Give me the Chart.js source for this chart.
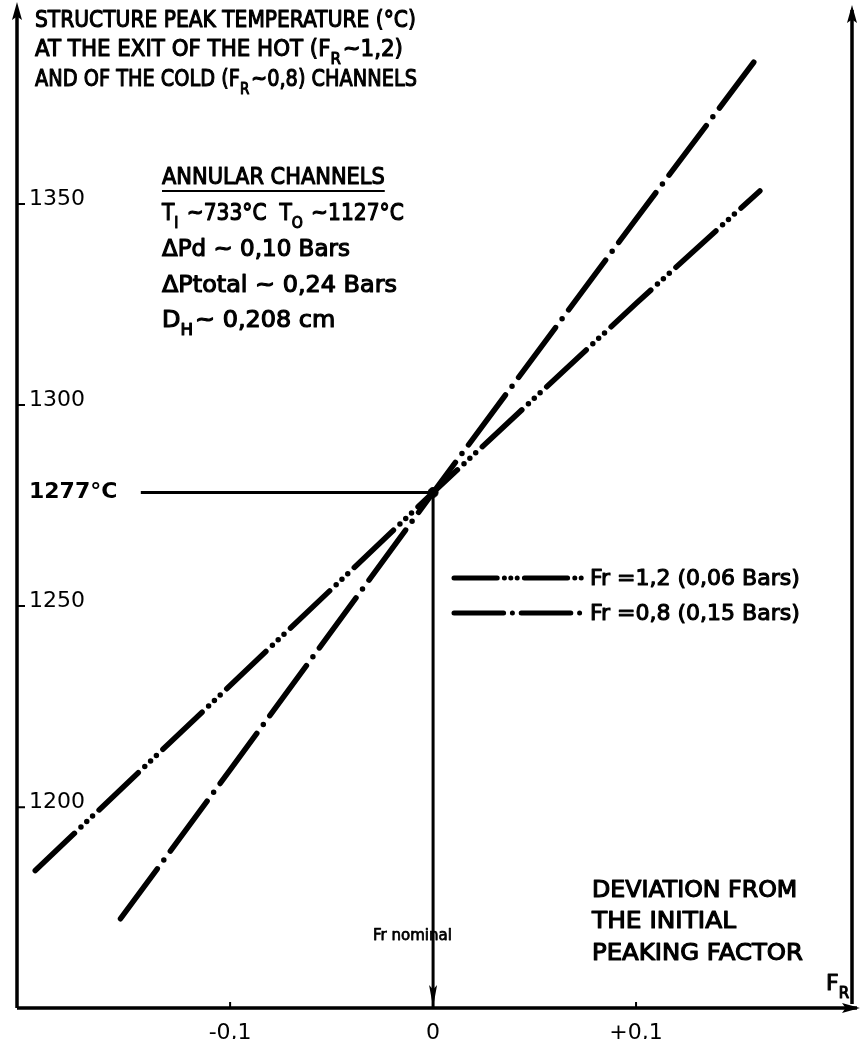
<!DOCTYPE html>
<html>
<head>
<meta charset="utf-8">
<script src="https://cdn.jsdelivr.net/npm/chart.js@4.4.1/dist/chart.umd.min.js"></script>
<style>
  html, body { margin: 0; padding: 0; background: #fff; }
  canvas { display: block; }
</style>
</head>
<body>
<canvas id="peakChart" width="863" height="1039"></canvas>
<script>
// Structure peak temperature vs deviation of the peaking factor F_R

const xTicks = [-0.1, 0, 0.1];
const xTickLabels = ["-0,1", "0", "+0,1"];
const yTicks = [1200, 1250, 1277, 1300, 1350];
const yTickLabels = ["1200", "1250", "1277°C", "1300", "1350"];

// hot channel, Fr = 1,2
const fr12X = [-0.196, -0.1, 0, 0.1, 0.161];
const fr12Y = [1183, 1229, 1277, 1324, 1352];
// cold channel, Fr = 0,8
const fr08X = [-0.154, -0.1, 0, 0.1, 0.158];
const fr08Y = [1171, 1208, 1277, 1345, 1384];

const nominalX = 0;
const nominalT = 1277;
const guideStartX = -0.144;

const xRange = [-0.205, 0.2064];
const yRange = [1148.8, 1397.0];

const FONT = '"DejaVu Sans", sans-serif';
const DASH_FR12 = [54, 9, 0, 8, 0, 8, 0, 9];
const DASH_FR08 = [62, 11, 0, 11];

const toPoints = (xs, ys) => xs.map((x, i) => ({ x, y: ys[i] }));

// ─── Text helper (lettering-stencil look, subscripts) ─────────────────────────
function letter(ctx, parts, x, y, size, sx = 1) {
  ctx.save();
  ctx.translate(x, y);
  ctx.scale(sx, 1);
  ctx.fillStyle = "#000";
  ctx.strokeStyle = "#000";
  ctx.lineWidth = size * 0.05;
  ctx.lineJoin = "round";
  ctx.textBaseline = "alphabetic";
  ctx.textAlign = "left";
  let cx = 0;
  parts.forEach(p => {
    const sub = typeof p !== "string";
    const s = sub ? p.sub : p;
    ctx.font = `${sub ? Math.round(size * 0.7) : size}px ${FONT}`;
    const dy = sub ? size * 0.36 : 0;
    ctx.fillText(s, cx, dy);
    ctx.strokeText(s, cx, dy);
    cx += ctx.measureText(s).width + (sub ? 2 : 0);
  });
  ctx.restore();
  return cx * sx;
}

function arrow(ctx, x, y, dir, len = 18, half = 5) {
  ctx.save();
  ctx.translate(x, y);
  ctx.rotate(dir);
  ctx.beginPath();
  ctx.moveTo(0, 0);
  ctx.lineTo(-len, -half);
  ctx.lineTo(-len * 0.8, 0);
  ctx.lineTo(-len, half);
  ctx.closePath();
  ctx.fill();
  ctx.restore();
}

// ─── Axes, legend and annotations ─────────────────────────────────────────────
const paperPlugin = {
  id: "paper",
  beforeDraw(chart) {
    const ctx = chart.ctx;
    ctx.save();
    ctx.fillStyle = "#fff";
    ctx.fillRect(0, 0, chart.width, chart.height);
    ctx.restore();
  },
  afterDraw(chart) {
    const ctx = chart.ctx;
    const { left, right, top, bottom } = chart.chartArea;
    const xs = chart.scales.x, ys = chart.scales.y;
    ctx.save();
    ctx.strokeStyle = "#000";
    ctx.fillStyle = "#000";
    ctx.lineCap = "butt";

    // frame axes with arrows
    ctx.lineWidth = 3.5;
    ctx.beginPath();
    ctx.moveTo(left, bottom); ctx.lineTo(left, top);
    ctx.moveTo(left, bottom); ctx.lineTo(chart.width - 6, bottom);
    ctx.moveTo(right, bottom - 4); ctx.lineTo(right, top);
    ctx.stroke();
    arrow(ctx, left, top - 8, -Math.PI / 2);
    arrow(ctx, right, top - 5, -Math.PI / 2);
    arrow(ctx, chart.width - 3, bottom, 0);

    // small tick marks
    ctx.lineWidth = 2;
    ctx.beginPath();
    yTicks.forEach(v => {
      if (v === nominalT) return;
      const py = ys.getPixelForValue(v) + 5;
      ctx.moveTo(left, py); ctx.lineTo(left + 8, py);
    });
    xTicks.forEach(v => {
      if (v === nominalX) return;
      const px = xs.getPixelForValue(v);
      ctx.moveTo(px, bottom); ctx.lineTo(px, bottom - 6);
    });
    ctx.stroke();

    // arrow on the nominal line
    arrow(ctx, xs.getPixelForValue(nominalX), bottom - 1, Math.PI / 2, 22, 4);

    // title
    letter(ctx, ["STRUCTURE PEAK TEMPERATURE (°C)"], 35, 27, 23, 0.88);
    letter(ctx, ["AT THE EXIT OF THE HOT (F", { sub: "R" }, "~1,2)"], 35, 56, 23, 0.93);
    letter(ctx, ["AND OF THE COLD (F", { sub: "R" }, "~0,8) CHANNELS"], 35, 86, 23, 0.84);

    // channel data block
    const w = letter(ctx, ["ANNULAR CHANNELS"], 162, 184, 23, 0.91);
    ctx.lineWidth = 2;
    ctx.beginPath();
    ctx.moveTo(162, 191); ctx.lineTo(162 + w, 191);
    ctx.stroke();
    letter(ctx, ["T", { sub: "I" }, " ~733°C  T", { sub: "O" }, " ~1127°C"], 162, 220, 23, 0.88);
    letter(ctx, ["ΔPd ~ 0,10 Bars"], 162, 256, 23);
    letter(ctx, ["ΔPtotal ~ 0,24 Bars"], 162, 292, 23, 1.04);
    letter(ctx, ["D", { sub: "H" }, "~ 0,208 cm"], 162, 327, 23, 1.04);

    // legend
    const legend = [
      { dash: DASH_FR12, y: 578, text: "Fr =1,2 (0,06 Bars)" },
      { dash: DASH_FR08, y: 613, text: "Fr =0,8 (0,15 Bars)" },
    ];
    legend.forEach(l => {
      ctx.save();
      ctx.lineWidth = 5;
      ctx.lineCap = "round";
      ctx.setLineDash(l.dash.map(d => d * 0.8));
      ctx.beginPath();
      ctx.moveTo(454, l.y); ctx.lineTo(583, l.y);
      ctx.stroke();
      ctx.restore();
      letter(ctx, [l.text], 590, l.y + 7, 22);
    });

    // abscissa description
    letter(ctx, ["DEVIATION FROM"], 592, 897, 23, 1.03);
    letter(ctx, ["THE INITIAL"], 592, 928, 23, 1.08);
    letter(ctx, ["PEAKING FACTOR"], 592, 960, 23, 1.06);
    letter(ctx, ["F", { sub: "R" }], 826, 990, 22);
    letter(ctx, ["Fr nominal"], 373, 940, 15);

    ctx.restore();
  }
};

// ─── Chart ────────────────────────────────────────────────────────────────────
new Chart(document.getElementById("peakChart"), {
  type: "scatter",
  data: {
    datasets: [
      {
        label: "Fr = 1,2",
        data: toPoints(fr12X, fr12Y),
        showLine: true,
        borderColor: "#000",
        borderWidth: 5.5,
        borderDash: DASH_FR12,
        borderCapStyle: "round",
        pointRadius: 0,
      },
      {
        label: "Fr = 0,8",
        data: toPoints(fr08X, fr08Y),
        showLine: true,
        borderColor: "#000",
        borderWidth: 5.5,
        borderDash: DASH_FR08,
        borderCapStyle: "round",
        pointRadius: 0,
      },
      {
        label: "nominal temperature",
        data: [{ x: guideStartX, y: nominalT }, { x: nominalX, y: nominalT }],
        showLine: true,
        borderColor: "#000",
        borderWidth: 3,
        pointRadius: 0,
      },
      {
        label: "Fr nominal",
        data: [{ x: nominalX, y: nominalT }, { x: nominalX, y: yRange[0] }],
        showLine: true,
        borderColor: "#000",
        borderWidth: 3,
        pointRadius: 0,
      },
      {
        label: "nominal point",
        data: [{ x: nominalX, y: nominalT }],
        pointRadius: 5,
        pointBackgroundColor: "#000",
        pointBorderColor: "#000",
      },
    ]
  },
  options: {
    responsive: false,
    animation: false,
    devicePixelRatio: 1,
    layout: { padding: { left: 17, right: 11, top: 10, bottom: 0 } },
    plugins: { legend: { display: false }, tooltip: { enabled: false } },
    scales: {
      x: {
        type: "linear",
        min: xRange[0],
        max: xRange[1],
        afterBuildTicks: s => { s.ticks = xTicks.map(v => ({ value: v })); },
        afterFit: s => { s.height = 31; s.paddingLeft = 0; s.paddingRight = 0; },
        grid: { display: false },
        border: { display: false },
        ticks: {
          callback: (v, i) => xTickLabels[i],
          color: "#000",
          font: { family: FONT, size: 22 },
          padding: 4,
          maxRotation: 0,
          autoSkip: false,
        }
      },
      y: {
        type: "linear",
        min: yRange[0],
        max: yRange[1],
        afterBuildTicks: s => { s.ticks = yTicks.map(v => ({ value: v })); },
        afterFit: s => { s.width = 0; s.paddingTop = 0; s.paddingBottom = 0; },
        grid: { display: false },
        border: { display: false },
        ticks: {
          mirror: true,
          padding: 12,
          callback: (v, i) => yTickLabels[i],
          color: "#000",
          font: ctx => ctx.index === 2
            ? { family: FONT, size: 22, weight: "bold" }
            : { family: FONT, size: 22 },
          autoSkip: false,
        }
      }
    }
  },
  plugins: [paperPlugin]
});
</script>
</body>
</html>
